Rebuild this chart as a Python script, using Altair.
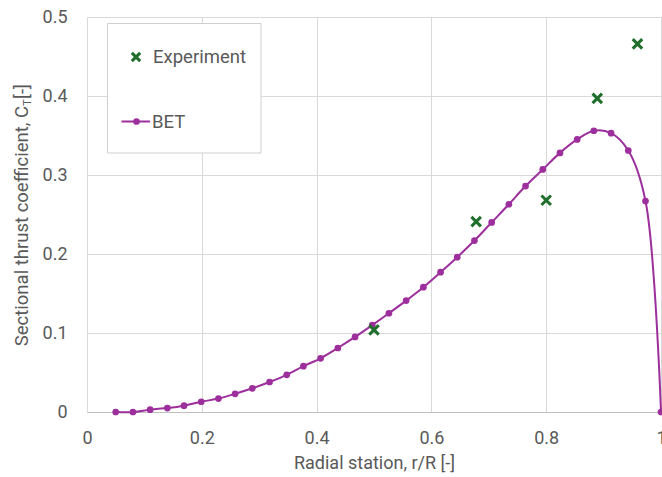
import altair as alt
import pandas as pd

# BET sectional thrust coefficient
bet_r = [0.050, 0.080, 0.110, 0.140, 0.169, 0.199, 0.229, 0.258, 0.288, 0.318, 0.348,
         0.377, 0.407, 0.437, 0.467, 0.497, 0.526, 0.556, 0.586, 0.616, 0.645, 0.675,
         0.705, 0.735, 0.764, 0.794, 0.824, 0.854, 0.883, 0.913, 0.943, 0.973, 1.000]
bet_ct = [0.000, 0.000, 0.003, 0.005, 0.008, 0.013, 0.017, 0.023, 0.030, 0.038, 0.047,
          0.058, 0.068, 0.081, 0.095, 0.110, 0.125, 0.141, 0.158, 0.177, 0.196, 0.217,
          0.240, 0.263, 0.286, 0.307, 0.328, 0.345, 0.356, 0.353, 0.331, 0.267, 0.000]

# Experiment
exp_r = [0.500, 0.678, 0.800, 0.889, 0.959]
exp_ct = [0.104, 0.241, 0.268, 0.397, 0.466]

x_ticks = [0, 0.2, 0.4, 0.6, 0.8, 1.0]
y_ticks = [0, 0.1, 0.2, 0.3, 0.4, 0.5]

PURPLE = "#9c2f9c"
GREEN = "#1f6e2c"
GRID = "#d9d9d9"
TXT = "#595959"
FONT = "Roboto"
XSHAPE = "M-1,-1L1,1M-1,1L1,-1"

bet = pd.DataFrame({"r": bet_r, "ct": bet_ct})
exp = pd.DataFrame({"r": exp_r, "ct": exp_ct})
one = pd.DataFrame({"k": [0]})

xs = alt.Scale(domain=[0, 1], nice=False, zero=False)
ys = alt.Scale(domain=[0, 0.5], nice=False)

xenc = alt.X("r:Q", scale=xs, axis=alt.Axis(values=x_ticks, format="~g", title="Radial station, r/R [-]",
                                             grid=True, ticks=False, domain=True, domainColor="#bfbfbf",
                                             labelPadding=17, titlePadding=7, labelFlush=False,
                                             labelOverlap=False, labelBound=False))
yenc = alt.Y("ct:Q", scale=ys, axis=alt.Axis(values=y_ticks, format="~g", title=None, grid=True,
                                              ticks=False, domain=False, labelPadding=20, labelFlush=False))

line = alt.Chart(bet).mark_line(interpolate="catmull-rom", color=PURPLE, strokeWidth=2).encode(x=xenc, y=yenc)
dots = alt.Chart(bet).mark_circle(color=PURPLE, size=45, opacity=1).encode(x="r:Q", y="ct:Q")
crosses = alt.Chart(exp).mark_point(shape=XSHAPE, filled=False, color=GREEN, strokeWidth=3,
                                    size=90, opacity=1).encode(x="r:Q", y="ct:Q")

# legend box (manual, to reproduce line+marker symbol)
box = alt.Chart(one).mark_rect(fill="white", stroke="#cfcfcf", strokeWidth=1).encode(
    x=alt.value(20.5), x2=alt.value(174), y=alt.value(6.5), y2=alt.value(136))
leg_x = alt.Chart(one).mark_point(shape=XSHAPE, filled=False, color=GREEN, strokeWidth=3,
                                  size=70, opacity=1).encode(x=alt.value(49), y=alt.value(40))
leg_line = alt.Chart(one).mark_rule(color=PURPLE, strokeWidth=2).encode(
    x=alt.value(34.5), x2=alt.value(63), y=alt.value(104.5))
leg_dot = alt.Chart(one).mark_circle(color=PURPLE, size=45, opacity=1).encode(x=alt.value(49.5), y=alt.value(104.5))
leg_t1 = alt.Chart(one).mark_text(text="Experiment", align="left", baseline="middle", font=FONT,
                                  fontSize=18.5, color=TXT).encode(x=alt.value(66), y=alt.value(40))
leg_t2 = alt.Chart(one).mark_text(text="BET", align="left", baseline="middle", font=FONT,
                                  fontSize=18.5, color=TXT).encode(x=alt.value(65), y=alt.value(104.5))

# y-axis title with subscript
yt1 = alt.Chart(one).mark_text(text="Sectional thrust coefficient, C", angle=270, align="right",
                               baseline="alphabetic", font=FONT, fontSize=18.5, color=TXT).encode(
    x=alt.value(-59), y=alt.value(89))
yt2 = alt.Chart(one).mark_text(text="T", angle=270, align="left", baseline="alphabetic", font=FONT,
                               fontSize=11.5, color=TXT).encode(x=alt.value(-56), y=alt.value(89))
yt3 = alt.Chart(one).mark_text(text=" [-]", angle=270, align="left", baseline="alphabetic", font=FONT,
                               fontSize=18.5, color=TXT).encode(x=alt.value(-59), y=alt.value(82))

chart = alt.layer(line, dots, crosses, box, leg_x, leg_line, leg_dot, leg_t1, leg_t2, yt1, yt2, yt3).properties(
    width=574, height=395, autosize="none",
    padding={"left": 87, "top": 17, "right": 1, "bottom": 65},
).configure(background="white").configure_view(stroke=None).configure_axis(
    gridColor=GRID, gridWidth=1, labelFont=FONT, labelFontSize=18, labelColor=TXT,
    titleFont=FONT, titleFontSize=18, titleColor=TXT, titleFontWeight="normal",
)

chart.save("out.html", embed_options={"renderer": "svg", "actions": False})
